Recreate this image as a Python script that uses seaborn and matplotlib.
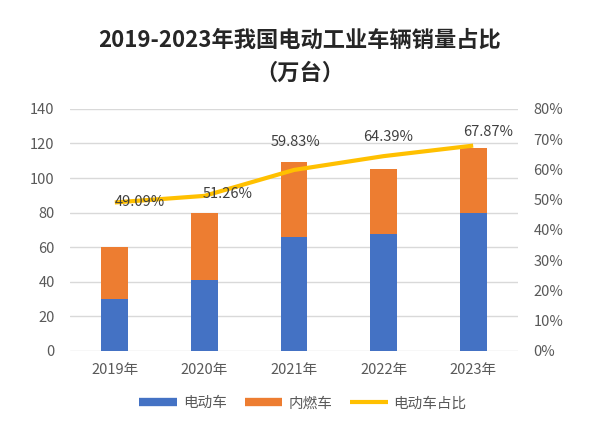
import matplotlib
matplotlib.use("Agg")
import matplotlib.pyplot as plt
import seaborn as sns
import pandas as pd
from matplotlib.lines import Line2D
from matplotlib.ticker import FuncFormatter

years = ["2019年", "2020年", "2021年", "2022年", "2023年"]
electric = [30, 41, 66, 67.5, 80]
combustion = [30, 39, 43.5, 37.5, 37.5]
share = [49.09, 51.26, 59.83, 64.39, 67.87]
share_labels = ["49.09%", "51.26%", "59.83%", "64.39%", "67.87%"]

total = [e + c for e, c in zip(electric, combustion)]
df = pd.DataFrame({"year": years, "electric": electric, "total": total, "share": share})

sns.set_theme(style="white")
plt.rcParams["font.family"] = ["Noto Sans CJK SC", "DejaVu Sans"]

BLUE = "#4472C4"
ORANGE = "#ED7D31"
GOLD = "#FFC000"
GRAY = "#595959"

fig = plt.figure(figsize=(6.0, 4.21), dpi=100)
ax = fig.add_axes([0.1167, 0.1663, 0.7466, 0.575])

sns.barplot(data=df, x="year", y="total", color=ORANGE, width=0.3, ax=ax,
            saturation=1, linewidth=0)
sns.barplot(data=df, x="year", y="electric", color=BLUE, width=0.3, ax=ax,
            saturation=1, linewidth=0)

ax.set_ylim(0, 140)
ax.set_yticks(range(0, 141, 20))
ax.set_xlim(-0.5, 4.5)
ax.grid(axis="y", color="#D9D9D9", linewidth=1)
ax.set_axisbelow(True)
for s in ax.spines.values():
    s.set_visible(False)
ax.set_xlabel("")
ax.set_ylabel("")
ax.tick_params(axis="y", length=0, labelsize=10.5, colors=GRAY, pad=11)
ax.tick_params(axis="x", length=0, labelsize=10.5, colors=GRAY, pad=9)

ax2 = ax.twinx()
sns.lineplot(data=df, x="year", y="share", color=GOLD, linewidth=3, ax=ax2, sort=False,
             solid_capstyle="butt")
ax2.set_ylim(0, 80)
ax2.set_yticks(range(0, 81, 10))
ax2.yaxis.set_major_formatter(FuncFormatter(lambda v, p: f"{int(v)}%"))
for s in ax2.spines.values():
    s.set_visible(False)
ax2.set_ylabel("")
ax2.set_xlabel("")
ax2.tick_params(axis="both", length=0, labelsize=10.5, colors=GRAY, pad=11)
ax2.set_xlim(-0.5, 4.5)

offsets = [(0, 0), (-1, 1), (-17, 20), (-15, 14), (-7, 10)]
for i, (v, lab) in enumerate(zip(share, share_labels)):
    ax2.annotate(lab, (i, v), xytext=offsets[i], textcoords="offset points",
                 ha="left", va="center", fontsize=10.5, color="#404040")

fig.text(0.5, 0.905, "2019-2023年我国电动工业车辆销量占比", ha="center", va="center",
         fontsize=16, fontweight="bold", color="#262626")
fig.text(0.5, 0.826, "（万台）", ha="center", va="center",
         fontsize=16, fontweight="bold", color="#262626")

handles = [Line2D([0], [0], color=BLUE, linewidth=6, solid_capstyle="butt"),
           Line2D([0], [0], color=ORANGE, linewidth=6, solid_capstyle="butt"),
           Line2D([0], [0], color=GOLD, linewidth=3, solid_capstyle="butt")]
fig.legend(handles, ["电动车", "内燃车", "电动车占比"], loc="center", bbox_to_anchor=(0.505, 0.042),
           ncol=3, frameon=False, fontsize=10.5, handlelength=2.6, columnspacing=1.2,
           labelcolor=GRAY, handletextpad=0.4)

fig.savefig("out.png", dpi=100)
